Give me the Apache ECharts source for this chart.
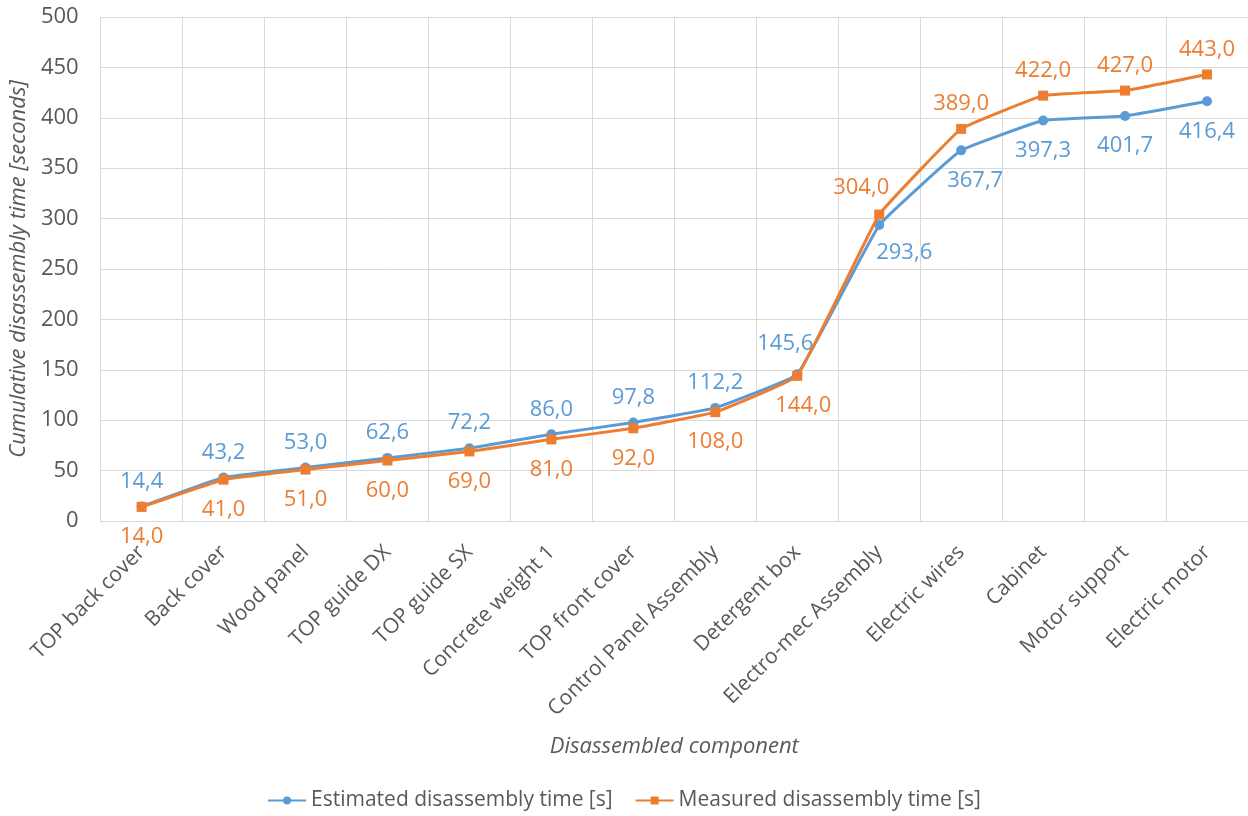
<!DOCTYPE html>
<html>
<head>
<meta charset="utf-8">
<style>
  html, body { margin: 0; padding: 0; background: #ffffff; }
  #chart { width: 1248px; height: 816px; }
</style>
<script src="https://cdn.jsdelivr.net/npm/echarts@6/dist/echarts.min.js"></script>
</head>
<body>
<div id="chart"></div>
<script>
// Components in the order they are removed
const components = [
  'TOP back cover', 'Back cover', 'Wood panel', 'TOP guide DX', 'TOP guide SX',
  'Concrete weight 1', 'TOP front cover', 'Control Panel Assembly', 'Detergent box',
  'Electro-mec Assembly', 'Electric wires', 'Cabinet', 'Motor support', 'Electric motor'
];
// Cumulative times in seconds
const estimatedTime = [14.4, 43.2, 53.0, 62.6, 72.2, 86.0, 97.8, 112.2, 145.6, 293.6, 367.7, 397.3, 401.7, 416.4];
const measuredTime  = [14.0, 41.0, 51.0, 60.0, 69.0, 81.0, 92.0, 108.0, 144.0, 304.0, 389.0, 422.0, 427.0, 443.0];
const yTicks = [0, 50, 100, 150, 200, 250, 300, 350, 400, 450, 500];

const BLUE = '#5B9BD5';
const ORANGE = '#ED7D31';
const TEXT = '#595959';
const FONT = '"Open Sans", "Noto Sans", sans-serif';

// Labels switch sides once the measured curve climbs above the estimated one
const SWITCH_AT = 9;
const fmt = v => v.toFixed(1).replace('.', ',');

// Hand-placed labels where the two curves crowd each other (pixel shifts)
const estimatedNudge = { 8: [-12, -6], 9: [25, -2], 10: [14, 0] };
const measuredNudge  = { 8: [6, 0], 9: [-18, -2] };

function seriesData(values, color, beforePos, afterPos) {
  return values.map((v, i) => {
    const pos = i < SWITCH_AT ? beforePos : afterPos;
    return {
      value: v,
      label: {
        position: pos,
        distance: pos === 'top' ? 9 : 14,
        color: color
      }
    };
  });
}

function nudgeLayout(nudge) {
  return function (params) {
    const d = nudge[params.dataIndex];
    return d ? { dx: d[0], dy: d[1] } : {};
  };
}

const labelCommon = {
  show: true,
  fontSize: 22,
  fontFamily: FONT,
  formatter: p => fmt(p.value)
};

const chart = echarts.init(document.getElementById('chart'), null, { renderer: 'canvas' });

chart.setOption({
  animation: false,
  textStyle: { fontFamily: FONT },
  grid: { left: 100, right: 0, top: 17, bottom: 295 },
  legend: {
    bottom: 0,
    left: 'center',
    itemGap: 22,
    itemWidth: 38,
    itemHeight: 10,
    textStyle: { fontSize: 21, color: TEXT, fontFamily: FONT },
    data: ['Estimated disassembly time [s]', 'Measured disassembly time [s]']
  },
  xAxis: {
    type: 'category',
    data: components,
    boundaryGap: true,
    name: 'Disassembled component',
    nameLocation: 'middle',
    nameGap: 215,
    nameTextStyle: { fontSize: 22, fontStyle: 'italic', color: TEXT, fontFamily: FONT },
    axisLine: { show: true, lineStyle: { color: '#d9d9d9', width: 1 } },
    axisTick: { show: false },
    splitLine: { show: true, lineStyle: { color: '#d9d9d9', width: 1 } },
    axisLabel: {
      interval: 0,
      rotate: 45,
      fontSize: 21,
      color: TEXT,
      margin: 28,
      fontFamily: FONT
    }
  },
  yAxis: {
    type: 'value',
    min: yTicks[0],
    max: yTicks[yTicks.length - 1],
    interval: yTicks[1] - yTicks[0],
    name: 'Cumulative disassembly time [seconds]',
    nameLocation: 'middle',
    nameGap: 68,
    nameTextStyle: { fontSize: 22, fontStyle: 'italic', color: TEXT, fontFamily: FONT },
    axisLine: { show: false },
    axisTick: { show: false },
    splitLine: { show: true, lineStyle: { color: '#d9d9d9', width: 1 } },
    axisLabel: { fontSize: 22, color: TEXT, margin: 22, fontFamily: FONT }
  },
  series: [
    {
      name: 'Estimated disassembly time [s]',
      type: 'line',
      smooth: 0.08,
      data: seriesData(estimatedTime, BLUE, 'top', 'bottom'),
      symbol: 'circle',
      symbolSize: 10,
      lineStyle: { color: BLUE, width: 3 },
      itemStyle: { color: BLUE },
      label: labelCommon,
      labelLayout: nudgeLayout(estimatedNudge),
      z: 2
    },
    {
      name: 'Measured disassembly time [s]',
      type: 'line',
      smooth: 0.08,
      data: seriesData(measuredTime, ORANGE, 'bottom', 'top'),
      symbol: 'rect',
      symbolSize: 10,
      lineStyle: { color: ORANGE, width: 3 },
      itemStyle: { color: ORANGE },
      label: labelCommon,
      labelLayout: nudgeLayout(measuredNudge),
      z: 3
    }
  ]
});
</script>
</body>
</html>
